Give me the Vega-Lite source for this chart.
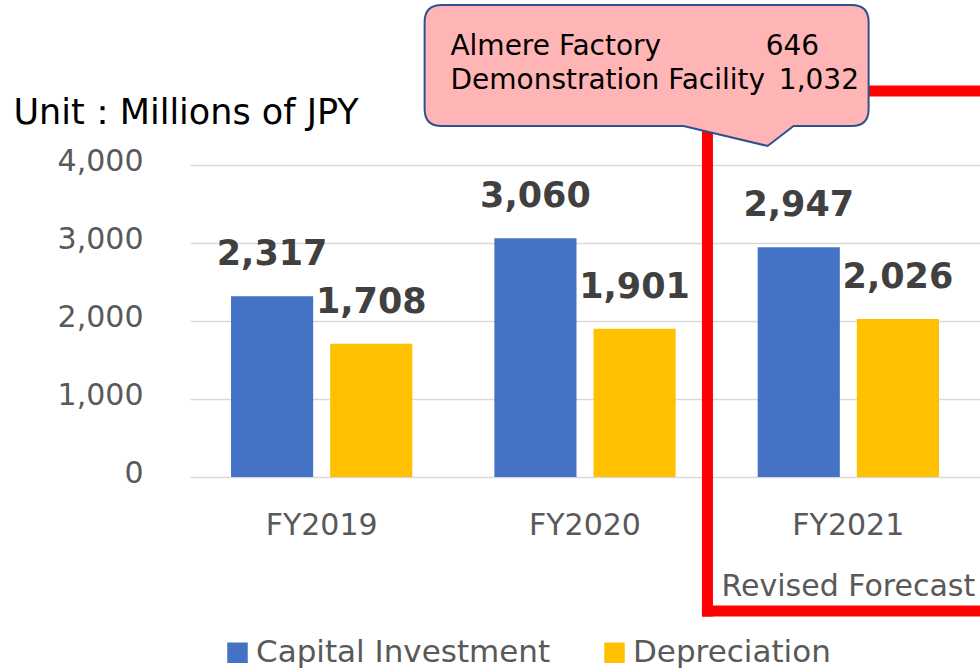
{
  "$schema": "https://vega.github.io/schema/vega-lite/v6.json",
  "width": 790,
  "height": 312,
  "autosize": "none",
  "padding": {"left": 190, "top": 165, "right": 0, "bottom": 195},
  "background": "white",
  "config": {
    "view": {"stroke": null},
    "font": "DejaVu Sans",
    "axisX": {"labelFontSize": 30, "labelColor": "#595959", "labelPadding": 33, "ticks": false, "domain": false, "labelAngle": 0, "grid": false},
    "axisY": {"grid": true, "gridColor": "#D9D9D9", "gridWidth": 1.5, "domain": false, "ticks": false, "labelFontSize": 30, "labelColor": "#595959", "labelPadding": 47, "labelOffset": -4, "labelExpr": "format(datum.value, ',')", "titleAngle": 0, "titleAlign": "left", "titleBaseline": "alphabetic", "titleX": -177, "titleY": -42, "titleFontSize": 35, "titleFontWeight": "normal", "titleColor": "#000000"}
  },
  "datasets": {
    "main": [
      {"year": "FY2019", "series": "Capital Investment", "value": 2317},
      {"year": "FY2019", "series": "Depreciation", "value": 1708},
      {"year": "FY2020", "series": "Capital Investment", "value": 3060},
      {"year": "FY2020", "series": "Depreciation", "value": 1901},
      {"year": "FY2021", "series": "Capital Investment", "value": 2947},
      {"year": "FY2021", "series": "Depreciation", "value": 2026}
    ],
    "callout": [
      {"item": "Almere Factory", "amount": 646},
      {"item": "Demonstration Facility", "amount": 1032}
    ],
    "note": [{"label": "Revised Forecast"}]
  },
  "data": {"name": "main"},
  "layer": [
    {
      "mark": {"type": "bar"},
      "encoding": {
        "x": {"field": "year", "type": "nominal", "title": null, "scale": {"domain": ["FY2019", "FY2020", "FY2021"], "paddingInner": 0, "paddingOuter": 0}},
        "xOffset": {"field": "series", "type": "nominal", "scale": {"domain": ["Capital Investment", "Depreciation"], "paddingInner": 0.1717, "paddingOuter": 0.414}},
        "y": {"field": "value", "type": "quantitative", "title": "Unit：Millions of JPY", "scale": {"domain": [0, 4000], "nice": false}, "axis": {"values": [0, 1000, 2000, 3000, 4000], "format": ","}},
        "color": {"field": "series", "type": "nominal", "scale": {"domain": ["Capital Investment", "Depreciation"], "range": ["#4472C4", "#FFC000"]},
          "legend": {"orient": "none", "legendX": 32, "legendY": 472, "direction": "horizontal", "title": null, "symbolType": "square", "symbolSize": 420, "symbolStrokeWidth": 0, "labelFontSize": 31, "labelColor": "#595959", "labelLimit": 500, "labelOffset": 3, "columnPadding": 48}}
      }
    },
    {
      "mark": {"type": "text", "dy": -31, "fontSize": 35, "fontWeight": "bold", "fill": "#404040", "baseline": "alphabetic", "align": "center"},
      "encoding": {
        "x": {"field": "year", "type": "nominal", "title": null},
        "xOffset": {"field": "series", "type": "nominal"},
        "y": {"field": "value", "type": "quantitative", "title": "Unit：Millions of JPY"},
        "text": {"field": "value", "type": "quantitative", "format": ","}
      }
    },
    {
      "data": {"name": "note"},
      "mark": {"type": "rule", "color": "#FF0000", "strokeWidth": 11, "strokeCap": "square"},
      "encoding": {
        "x": {"datum": "FY2020", "type": "nominal", "bandPosition": 0.965, "title": null},
        "y": {"datum": 4949, "type": "quantitative", "title": "Unit：Millions of JPY"},
        "y2": {"datum": -1718}
      }
    },
    {
      "data": {"name": "note"},
      "mark": {"type": "rule", "color": "#FF0000", "strokeWidth": 11, "strokeCap": "square"},
      "encoding": {
        "x": {"datum": "FY2020", "type": "nominal", "bandPosition": 0.965, "title": null},
        "x2": {"datum": "FY2021", "bandPosition": 1},
        "y": {"datum": 4949, "type": "quantitative", "title": "Unit：Millions of JPY"}
      }
    },
    {
      "data": {"name": "note"},
      "mark": {"type": "rule", "color": "#FF0000", "strokeWidth": 11, "strokeCap": "square"},
      "encoding": {
        "x": {"datum": "FY2020", "type": "nominal", "bandPosition": 0.965, "title": null},
        "x2": {"datum": "FY2021", "bandPosition": 1},
        "y": {"datum": -1718, "type": "quantitative", "title": "Unit：Millions of JPY"}
      }
    },
    {
      "data": {"name": "note"},
      "mark": {"type": "point", "shape": "M -2.05 -0.605 L 2.05 -0.605 Q 2.22 -0.605 2.22 -0.435 L 2.22 0.435 Q 2.22 0.605 2.05 0.605 L 1.47 0.605 L 1.21 0.805 L 0.37 0.605 L -2.05 0.605 Q -2.22 0.605 -2.22 0.435 L -2.22 -0.435 Q -2.22 -0.605 -2.05 -0.605 Z", "size": 40000, "filled": true, "fill": "#FFB5B5", "stroke": "#2F528F", "strokeWidth": 2, "opacity": 1},
      "encoding": {
        "x": {"datum": "FY2020", "type": "nominal", "bandPosition": 0.734, "title": null},
        "y": {"datum": 5276, "type": "quantitative", "title": "Unit：Millions of JPY"}
      }
    },
    {
      "data": {"name": "callout"},
      "transform": [{"filter": "datum.item === 'Almere Factory'"}],
      "mark": {"type": "text", "align": "left", "baseline": "alphabetic", "fontSize": 28, "fill": "#000000"},
      "encoding": {
        "x": {"datum": "FY2019", "type": "nominal", "bandPosition": 0.989, "title": null},
        "y": {"datum": 5410, "type": "quantitative", "title": "Unit：Millions of JPY"},
        "text": {"field": "item", "type": "nominal"}
      }
    },
    {
      "data": {"name": "callout"},
      "transform": [{"filter": "datum.item === 'Almere Factory'"}],
      "mark": {"type": "text", "align": "left", "baseline": "alphabetic", "fontSize": 28, "fill": "#000000"},
      "encoding": {
        "x": {"datum": "FY2021", "type": "nominal", "bandPosition": 0.186, "title": null},
        "y": {"datum": 5410, "type": "quantitative", "title": "Unit：Millions of JPY"},
        "text": {"field": "amount", "type": "quantitative", "format": ","}
      }
    },
    {
      "data": {"name": "callout"},
      "transform": [{"filter": "datum.item === 'Demonstration Facility'"}],
      "mark": {"type": "text", "align": "left", "baseline": "alphabetic", "fontSize": 28, "fill": "#000000"},
      "encoding": {
        "x": {"datum": "FY2019", "type": "nominal", "bandPosition": 0.989, "title": null},
        "y": {"datum": 4974, "type": "quantitative", "title": "Unit：Millions of JPY"},
        "text": {"field": "item", "type": "nominal"}
      }
    },
    {
      "data": {"name": "callout"},
      "transform": [{"filter": "datum.item === 'Demonstration Facility'"}],
      "mark": {"type": "text", "align": "left", "baseline": "alphabetic", "fontSize": 28, "fill": "#000000"},
      "encoding": {
        "x": {"datum": "FY2021", "type": "nominal", "bandPosition": 0.236, "title": null},
        "y": {"datum": 4974, "type": "quantitative", "title": "Unit：Millions of JPY"},
        "text": {"field": "amount", "type": "quantitative", "format": ","}
      }
    },
    {
      "data": {"name": "note"},
      "mark": {"type": "text", "align": "center", "baseline": "alphabetic", "fontSize": 30, "fill": "#595959"},
      "encoding": {
        "x": {"datum": "FY2021", "type": "nominal", "bandPosition": 0.5, "title": null},
        "y": {"datum": -1526, "type": "quantitative", "title": "Unit：Millions of JPY"},
        "text": {"field": "label", "type": "nominal"}
      }
    }
  ]
}
